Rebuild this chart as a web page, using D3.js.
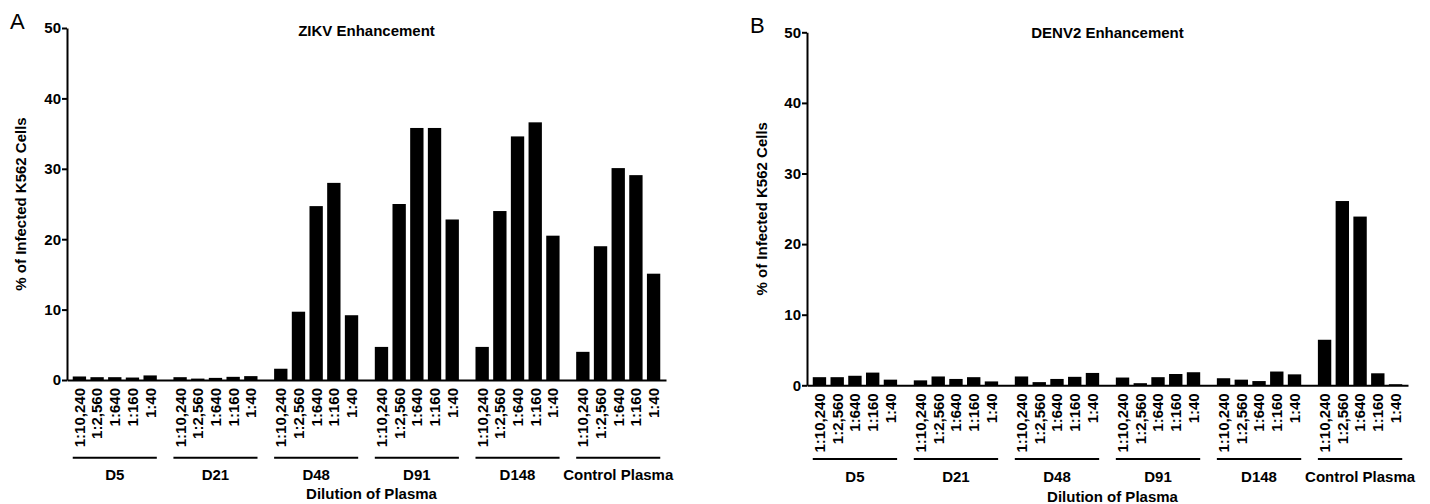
<!DOCTYPE html>
<html>
<head>
<meta charset="utf-8">
<script src="https://cdn.jsdelivr.net/npm/d3@7"></script>
<style>
  body { margin: 0; background: #fff; }
  svg text { font-family: "Liberation Sans", Arial, Helvetica, sans-serif; fill: #000; }
</style>
</head>
<body>
<script>
var W = 1430, H = 504;

// data
var groups = ["D5", "D21", "D48", "D91", "D148", "Control Plasma"];
var dilutions = ["1:10,240", "1:2,560", "1:640", "1:160", "1:40"];
var yTicks = [0, 10, 20, 30, 40, 50];

var zikvValues = [
    [0.5, 0.4, 0.4, 0.35, 0.65],
    [0.4, 0.2, 0.3, 0.45, 0.55],
    [1.6, 9.7, 24.7, 28.0, 9.2],
    [4.7, 25.0, 35.8, 35.8, 22.8],
    [4.7, 24.0, 34.6, 36.6, 20.5],
    [4.0, 19.0, 30.1, 29.1, 15.1]
];
var denvValues = [
    [1.15, 1.15, 1.35, 1.8, 0.8],
    [0.7, 1.25, 0.9, 1.15, 0.55],
    [1.25, 0.45, 0.9, 1.2, 1.75],
    [1.1, 0.3, 1.15, 1.6, 1.85],
    [1.0, 0.8, 0.6, 1.95, 1.55],
    [6.45, 26.1, 23.9, 1.7, 0.15]
];

var panels = [
    { letter: "A", title: "ZIKV Enhancement", values: zikvValues,
      x0: 67, x1: 666, yTop: 28, yBase: 380, letterX: 10, letterY: 29,
      titleY: 35.5, yLabelX: 21, lineDy: 77.7, groupDy: 100, axisDy: 118.5 },
    { letter: "B", title: "DENV2 Enhancement", values: denvValues,
      x0: 807, x1: 1408, yTop: 32.3, yBase: 385.3, letterX: 750, letterY: 33,
      titleY: 37.8, yLabelX: 762, lineDy: 73.7, groupDy: 96.7, axisDy: 116.7 }
];

var svg = d3.select("body")
    .append("svg")
    .attr("width", W)
    .attr("height", H);

panels.forEach(function (p) {
    var g = svg.append("g");

    var xGroup = d3.scaleBand()
        .domain(groups)
        .range([p.x0, p.x1])
        .paddingInner(0.165)
        .paddingOuter(0.057);

    var xDil = d3.scaleBand()
        .domain(dilutions)
        .range([0, xGroup.bandwidth()])
        .paddingInner(0.246)
        .paddingOuter(0);

    var y = d3.scaleLinear()
        .domain([0, 50])
        .range([p.yBase, p.yTop]);

    // bars
    var gg = g.selectAll("g.grp")
        .data(groups)
        .enter()
        .append("g")
        .attr("class", "grp")
        .attr("transform", function (d) { return "translate(" + xGroup(d) + ",0)"; });

    gg.selectAll("rect")
        .data(function (d, i) {
            return p.values[i].map(function (v, j) { return { dil: dilutions[j], v: v }; });
        })
        .enter()
        .append("rect")
        .attr("x", function (d) { return xDil(d.dil); })
        .attr("y", function (d) { return y(d.v); })
        .attr("width", xDil.bandwidth())
        .attr("height", function (d) { return y(0) - y(d.v); })
        .attr("fill", "#000");

    // rotated dilution labels
    gg.selectAll("text.dil")
        .data(dilutions)
        .enter()
        .append("text")
        .attr("class", "dil")
        .attr("transform", function (d) {
            return "translate(" + (xDil(d) + xDil.bandwidth() / 2) + "," + (p.yBase + 8) + ") rotate(-90)";
        })
        .attr("dy", "0.36em")
        .attr("text-anchor", "end")
        .attr("font-size", 15)
        .attr("font-weight", "bold")
        .text(function (d) { return d; });

    // group underline + name
    gg.append("line")
        .attr("x1", 0)
        .attr("x2", xGroup.bandwidth())
        .attr("y1", p.yBase + p.lineDy)
        .attr("y2", p.yBase + p.lineDy)
        .attr("stroke", "#000")
        .attr("stroke-width", 2);

    gg.append("text")
        .attr("x", xGroup.bandwidth() / 2)
        .attr("y", p.yBase + p.groupDy)
        .attr("text-anchor", "middle")
        .attr("font-size", 15)
        .attr("font-weight", "bold")
        .text(function (d) { return d; });

    // axes
    var yAxis = d3.axisLeft(y)
        .tickValues(yTicks)
        .tickSize(5)
        .tickSizeOuter(0)
        .tickPadding(1);
    var ya = g.append("g")
        .attr("transform", "translate(" + p.x0 + ",0)")
        .call(yAxis);
    ya.selectAll("path, line").attr("stroke", "#000").attr("stroke-width", 2);
    ya.selectAll("text")
        .attr("font-size", 15)
        .attr("font-weight", "bold")
        .attr("font-family", "Liberation Sans, Arial, sans-serif");

    var xAxis = d3.axisBottom(xGroup).tickSize(0).tickSizeOuter(0).tickFormat("");
    var xa = g.append("g")
        .attr("transform", "translate(0," + p.yBase + ")")
        .call(xAxis);
    xa.select(".domain").attr("stroke", "#000").attr("stroke-width", 2);

    // labels
    g.append("text")
        .attr("x", (p.x0 + p.x1) / 2)
        .attr("y", p.titleY)
        .attr("text-anchor", "middle")
        .attr("font-size", 15)
        .attr("font-weight", "bold")
        .text(p.title);

    g.append("text")
        .attr("transform", "translate(" + p.yLabelX + "," + ((p.yTop + p.yBase) / 2) + ") rotate(-90)")
        .attr("dy", "0.36em")
        .attr("text-anchor", "middle")
        .attr("font-size", 15)
        .attr("font-weight", "bold")
        .text("% of Infected K562 Cells");

    g.append("text")
        .attr("x", (p.x0 + p.x1) / 2 + 5)
        .attr("y", p.yBase + p.axisDy)
        .attr("text-anchor", "middle")
        .attr("font-size", 15)
        .attr("font-weight", "bold")
        .text("Dilution of Plasma");

    g.append("text")
        .attr("x", p.letterX)
        .attr("y", p.letterY)
        .attr("font-size", 22)
        .text(p.letter);
});
</script>
</body>
</html>
